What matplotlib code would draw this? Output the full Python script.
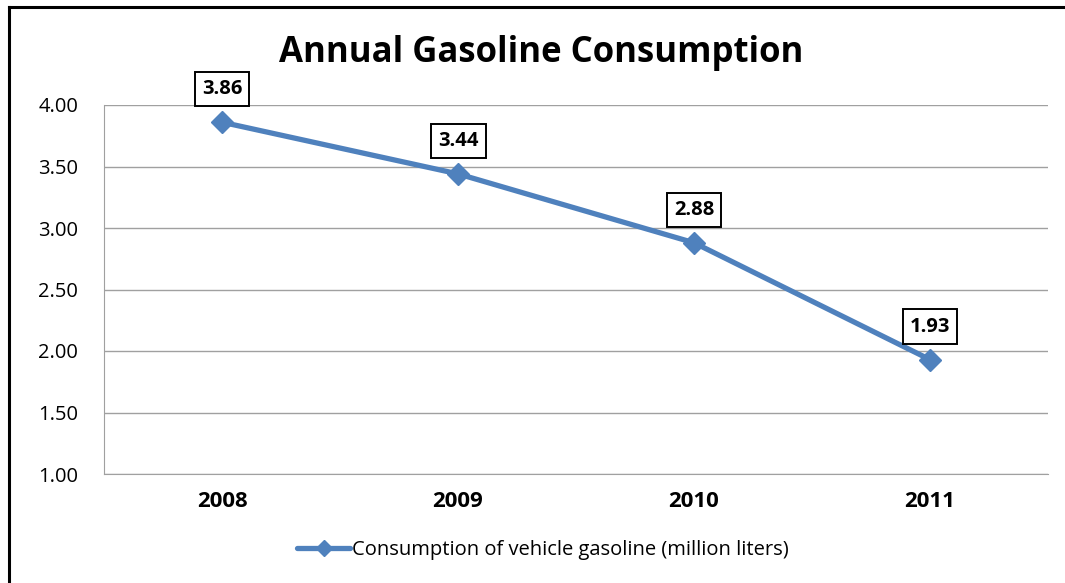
import matplotlib.pyplot as plt
from matplotlib.lines import Line2D

plt.rcParams['font.family'] = ['Open Sans', 'DejaVu Sans']

# Annual data
years = ['2008', '2009', '2010', '2011']
consumption = [3.86, 3.44, 2.88, 1.93]
y_ticks = [1.00, 1.50, 2.00, 2.50, 3.00, 3.50, 4.00]

line_color = '#4F81BD'

fig = plt.figure(figsize=(10.65, 5.83), dpi=100)
ax = fig.add_axes([104 / 1065, 1 - 474 / 583, (1048 - 104) / 1065, (474 - 105) / 583])

x = list(range(len(years)))
ax.plot(x, consumption, color=line_color, linewidth=3.8, marker='D',
        markersize=11, markerfacecolor=line_color, markeredgecolor=line_color,
        solid_capstyle='round')

# Value labels in boxes above each point
for xi, v in zip(x, consumption):
    ax.annotate(f'{v:.2f}', (xi, v), xytext=(0, 33), textcoords='offset pixels',
                ha='center', va='center', fontsize=14.5, fontweight='bold',
                bbox=dict(boxstyle='square,pad=0.36', facecolor='white',
                          edgecolor='black', linewidth=1.4))

ax.set_xlim(-0.5, len(years) - 0.5)
ax.set_ylim(1.0, 4.0)
ax.set_yticks(y_ticks)
ax.set_yticklabels([f'{t:.2f}' for t in y_ticks], fontsize=14.5)
ax.set_xticks(x)
ax.set_xticklabels(years, fontsize=16, fontweight='bold')
ax.tick_params(axis='both', length=0)
ax.tick_params(axis='y', pad=18.5)
ax.tick_params(axis='x', pad=12)

ax.grid(axis='y', color='#A0A0A0', linewidth=1.0)
ax.set_axisbelow(True)
for side in ['top', 'right']:
    ax.spines[side].set_visible(False)
ax.spines['left'].set_color('#A0A0A0')
ax.spines['bottom'].set_color('#A0A0A0')

fig.text(541 / 1065, 1 - 53 / 583, 'Annual Gasoline Consumption',
         ha='center', va='center', fontsize=25, fontweight='bold')

handle = Line2D([], [], color=line_color, linewidth=3.8, marker='D',
                markersize=8, solid_capstyle='round')
fig.legend([handle], ['Consumption of vehicle gasoline (million liters)'],
           loc='center', bbox_to_anchor=(543 / 1065, 1 - 550 / 583),
           frameon=False, fontsize=14.5, handlelength=2.6, handletextpad=0.1)

# Outer chart frame (top and left edges)
fig.add_artist(Line2D([9 / 1065, 1], [1 - 7 / 583, 1 - 7 / 583],
                      transform=fig.transFigure, color='black', linewidth=2.2))
fig.add_artist(Line2D([9 / 1065, 9 / 1065], [0, 1 - 7 / 583],
                      transform=fig.transFigure, color='black', linewidth=2.2))

fig.savefig('out.png', dpi=100)
